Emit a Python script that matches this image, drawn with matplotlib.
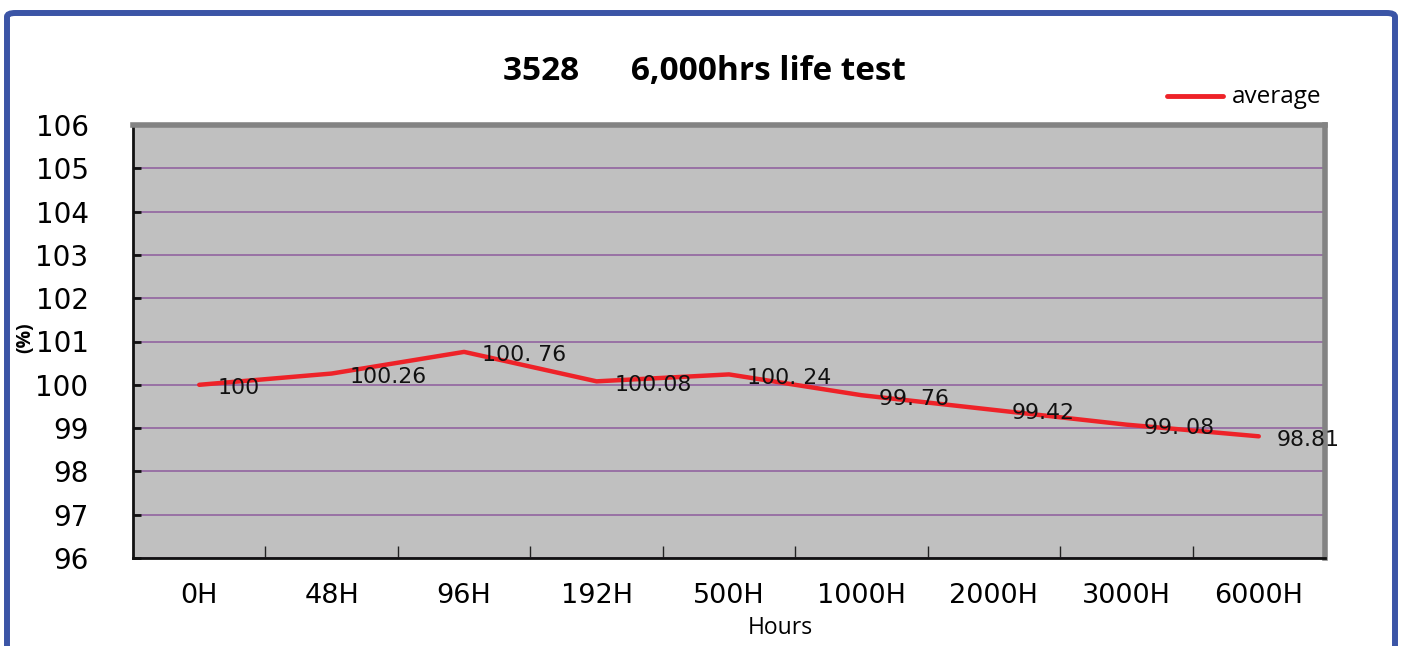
import matplotlib
matplotlib.use('Agg')
import matplotlib.pyplot as plt
from matplotlib.patches import FancyBboxPatch
from matplotlib.lines import Line2D

# Datos
hours = ['0H', '48H', '96H', '192H', '500H', '1000H', '2000H', '3000H', '6000H']
average = [100, 100.26, 100.76, 100.08, 100.24, 99.76, 99.42, 99.08, 98.81]
point_labels = ['100', '100.26', '100. 76', '100.08', '100. 24',
                '99. 76', '99.42', '99. 08', '98.81']
y_ticks = [96, 97, 98, 99, 100, 101, 102, 103, 104, 105, 106]

W, H = 1402, 646
fig = plt.figure(figsize=(W / 100, H / 100), dpi=100)
fig.patch.set_facecolor('white')

# Marco azul exterior
frame = FancyBboxPatch((7 / W, -0.05), (1395 - 7) / W, 1 - 13 / H + 0.05,
                       boxstyle='round,pad=0,rounding_size=0.006',
                       transform=fig.transFigure, fill=False,
                       edgecolor='#3b55a6', linewidth=4.3, zorder=0)
fig.patches.append(frame)

ax = fig.add_axes([133 / W, 1 - 558 / H, (1325 - 133) / W, (558 - 125) / H])
ax.set_facecolor('#c0c0c0')

x = list(range(len(hours)))
ax.plot(x, average, color='#ee2228', linewidth=3.2, solid_capstyle='round',
        zorder=3)

for xi, yi, lab in zip(x, average, point_labels):
    ax.annotate(lab, (xi, yi), xytext=(13, -2.5), textcoords='offset points',
                ha='left', va='center', fontsize=15.8, family='DejaVu Sans',
                color='#111111', zorder=4)

ax.set_xlim(-0.5, len(hours) - 0.5)
ax.set_ylim(96, 106)
ax.set_yticks(y_ticks)
ax.set_yticklabels([str(v) for v in y_ticks], fontsize=20, family='DejaVu Sans')
ax.yaxis.grid(True, color='#8e5c9e', linewidth=1.1)
ax.set_axisbelow(True)

# Marcas del eje x entre categorias
ax.set_xticks([i + 0.5 for i in x])
ax.set_xticklabels([])
ax.set_xticks(x, minor=True)
ax.set_xticklabels(hours, minor=True, fontsize=19.5, family='DejaVu Sans')
ax.tick_params(axis='x', which='minor', length=0, pad=18)
ax.tick_params(axis='x', which='major', direction='in', length=9, width=1,
               color='#222222')
ax.tick_params(axis='y', direction='in', length=6, width=2, color='#111111',
               pad=32)

for side in ['left', 'bottom']:
    ax.spines[side].set_color('#111111')
    ax.spines[side].set_linewidth(2)
for side in ['top', 'right']:
    ax.spines[side].set_color('#838383')
    ax.spines[side].set_linewidth(4)

ax.set_xlabel('Hours', fontsize=16.5, family='Open Sans')
ax.xaxis.set_label_coords((780 - 133) / (1325 - 133), -(628 - 558) / (558 - 125))
ax.xaxis.label.set_va('center')
fig.text(25 / W, 1 - 338 / H, '(%)', rotation=90, ha='center', va='center',
         fontsize=14, fontweight='bold', family='Open Sans')

fig.text(704 / W, 1 - 72 / H, '3528      6,000hrs life test', ha='center',
         va='center', fontsize=24, fontweight='bold', family='Open Sans')

# Leyenda
fig.lines.append(Line2D([1167 / W, 1223 / W], [1 - 96 / H, 1 - 96 / H],
                        transform=fig.transFigure, color='#ee2228',
                        linewidth=3.5, solid_capstyle='round'))
fig.text(1232 / W, 1 - 97 / H, 'average', ha='left', va='center',
         fontsize=17.5, family='Open Sans')

fig.savefig('out.png', dpi=100)
